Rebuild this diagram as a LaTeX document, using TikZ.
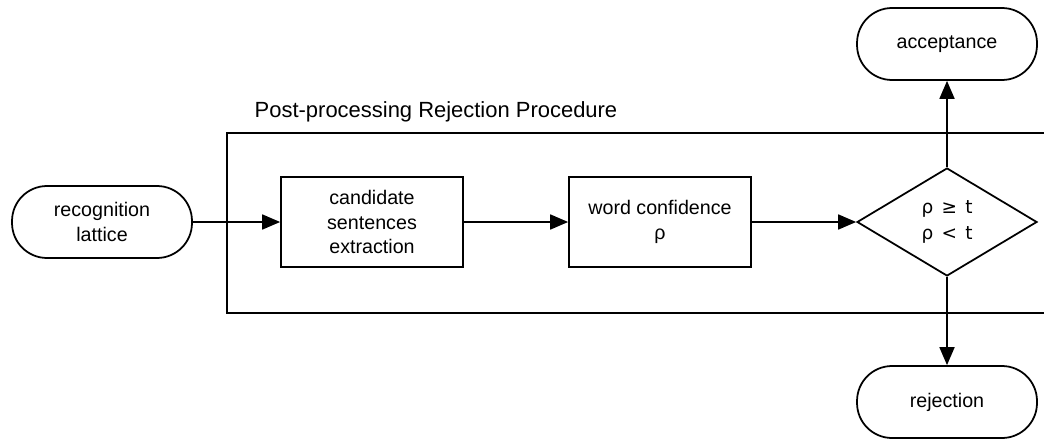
\documentclass[tikz,border=0pt]{standalone}
\usepackage{fontspec}
\setmainfont{Liberation Sans}
\newfontfamily\symfont{DejaVu Sans}
\usetikzlibrary{shapes.geometric,arrows.meta}
\tikzset{
  term/.style={draw, line width=1pt, rounded corners=0.7cm, minimum width=3.6cm, minimum height=1.44cm, align=center, font=\fontsize{11.2}{14.2}\selectfont},
  stepbox/.style={draw, line width=1pt, minimum width=3.64cm, minimum height=1.8cm, align=center, font=\fontsize{11.2}{14.2}\selectfont},
  test/.style={draw, diamond, line width=1pt, minimum width=3.6cm, minimum height=2.16cm, inner sep=0pt, align=center, font=\symfont\fontsize{10.5}{14.5}\selectfont},
  flow/.style={line width=1pt, -{Triangle[length=0.36cm,width=0.3cm]}}
}
\begin{document}
\begin{tikzpicture}[x=0.02cm, y=-0.02cm]
\useasboundingbox (0,0) rectangle (1044,439);
% frame of the procedure
\draw[line width=1pt] (1060,133) -- (227,133) -- (227,313) -- (1060,313);
\node[font=\fontsize{12.5}{15}\selectfont] (title) at (436,112) {Post-processing Rejection Procedure};
% nodes
\node[term] (lattice) at (102,222) {recognition\\lattice};
\node[stepbox] (cand) at (372,222) {candidate\\sentences\\extraction};
\node[stepbox] (conf) at (660,222) {word confidence\\ρ};
\node[test] (thr) at (947,222) {ρ\hspace{0.45em}≥\hspace{0.45em}t\\ρ\hspace{0.45em}<\hspace{0.45em}t};
\node[term] (acc) at (947,44) {acceptance};
\node[term] (rej) at (947,402) {rejection};
% connectors
\draw[flow] (lattice) -- (cand);
\draw[flow] (cand) -- (conf);
\draw[flow] (conf) -- (thr);
\draw[flow] (thr) -- (acc);
\draw[flow] (thr) -- (rej);
\end{tikzpicture}
\end{document}
